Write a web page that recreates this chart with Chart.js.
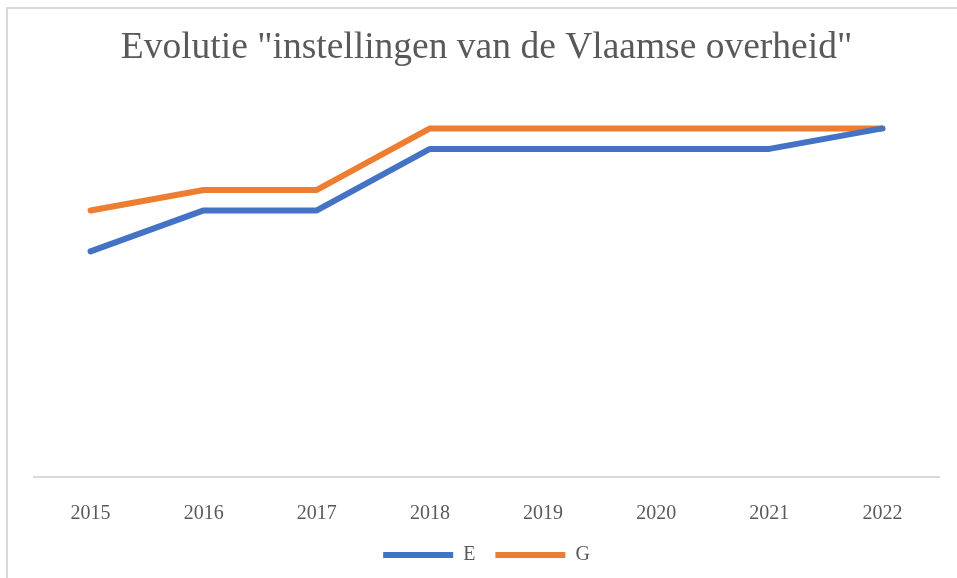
<!DOCTYPE html>
<html>
<head>
<meta charset="utf-8">
<script src="https://cdn.jsdelivr.net/npm/chart.js@4"></script>
<style>
    body { margin: 0; background: #fff; }
    #frame { position: absolute; left: 6px; top: 7px; width: 1000px; height: 700px; border: 2px solid #d9d9d9; }
    #wrap { position: absolute; left: 0; top: 0; width: 957px; height: 578px; }
</style>
</head>
<body>
<div id="frame"></div>
<div id="wrap"><canvas id="lineChart"></canvas></div>
<script>
// Chart data
const years = ['2015', '2016', '2017', '2018', '2019', '2020', '2021', '2022'];
const seriesE = [11, 13, 13, 16, 16, 16, 16, 17];
const seriesG = [13, 14, 14, 17, 17, 17, 17, 17];

Chart.defaults.font.family = "'Liberation Serif', 'Times New Roman', serif";
Chart.defaults.color = '#595959';

function createLineChart() {
    const canvas = document.getElementById('lineChart');
    if (!canvas) return null;

    const lineStyle = {
        borderWidth: 6,
        pointRadius: 0,
        borderCapStyle: 'round',
        borderJoinStyle: 'round',
        tension: 0
    };

    return new Chart(canvas, {
        type: 'line',
        data: {
            labels: years,
            datasets: [
                { label: 'E', data: seriesE, borderColor: '#4472C4', backgroundColor: '#4472C4', ...lineStyle },
                { label: 'G', data: seriesG, borderColor: '#ED7D31', backgroundColor: '#ED7D31', ...lineStyle }
            ]
        },
        options: {
            responsive: true,
            maintainAspectRatio: false,
            animation: false,
            layout: { padding: { left: 34, right: 18, top: 26, bottom: 13 } },
            scales: {
                x: {
                    offset: true,
                    grid: { display: false, drawTicks: false },
                    border: { color: '#d9d9d9', width: 2 },
                    ticks: { font: { size: 20 }, padding: 25, color: '#595959' },
                    afterFit: (scale) => { scale.height = 48; }
                },
                y: {
                    display: false,
                    min: 0,
                    max: 19.8
                }
            },
            plugins: {
                title: {
                    display: true,
                    text: 'Evolutie "instellingen van de Vlaamse overheid"',
                    font: { size: 37.5, weight: 'normal' },
                    color: '#595959',
                    padding: { top: 0, bottom: 0 }
                },
                legend: {
                    position: 'bottom',
                    maxHeight: 40,
                    labels: {
                        usePointStyle: true,
                        pointStyle: 'line',
                        pointStyleWidth: 70,
                        font: { size: 20 },
                        color: '#595959',
                        padding: 20
                    }
                },
                tooltip: { enabled: false }
            }
        }
    });
}

createLineChart();
</script>
</body>
</html>
